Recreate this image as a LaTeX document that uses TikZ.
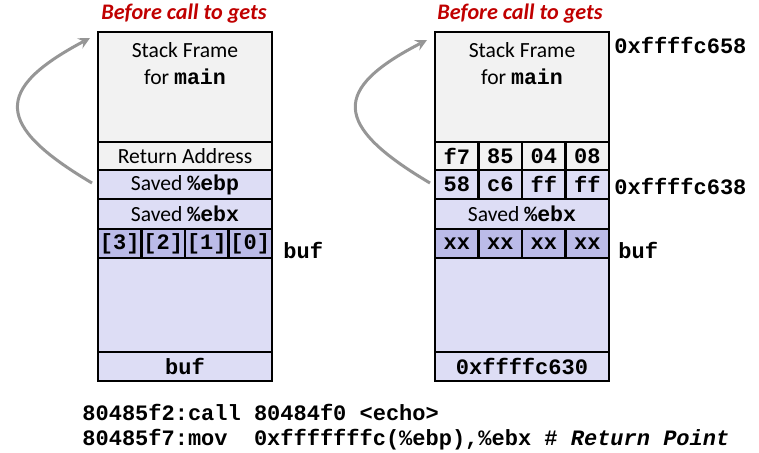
\documentclass[tikz,border=0pt]{standalone}
\usepackage{fontspec}
\setmainfont{Carlito}
\setmonofont{Liberation Mono}

\definecolor{framegray}{RGB}{242,242,242}
\definecolor{savedlav}{RGB}{221,221,245}
\definecolor{buflav}{RGB}{187,187,232}
\definecolor{titlered}{RGB}{192,0,0}
\definecolor{arrowgray}{RGB}{150,150,150}

\newcommand{\reg}[1]{\texttt{\textbf{#1}}}

\begin{document}
\begin{tikzpicture}[x=0.5pt,y=-0.5pt,
  cell/.style={draw,line width=1.2pt,minimum width=87pt,inner sep=0pt,font=\fontsize{10.8}{13.5}\selectfont},
  gray cell/.style={cell,fill=framegray},
  lav cell/.style={cell,fill=savedlav},
  byte cell/.style={cell,minimum width=21.75pt,font=\fontsize{11}{13}\selectfont\ttfamily\bfseries},
  title/.style={font=\fontsize{11.1}{13}\selectfont\bfseries\itshape,text=titlered},
  addr/.style={anchor=west,inner sep=0pt,font=\fontsize{11}{13}\selectfont\ttfamily\bfseries},
  code/.style={anchor=west,inner sep=0pt,font=\fontsize{11}{13}\selectfont\ttfamily\bfseries},
  back arrow/.style={->,>=stealth,line width=1.5pt,arrowgray}]
  \useasboundingbox (0,0) rectangle (759,452);

  % left stack
  \node[title] (titleL) at (184,14) {Before call to gets};
  \node[gray cell,minimum height=55pt] (frameL) at (185,87) {};
  \node[align=center,font=\fontsize{10.8}{13.5}\selectfont] (frameTxtL) at (185,63.5) {Stack Frame\\for \reg{main}};
  \node[gray cell,minimum height=14pt] (retL) at (185,156) {Return Address};
  \node[lav cell,minimum height=14.5pt] (ebpL) at (185,184.5) {Saved \reg{\%ebp}};
  \node[lav cell,minimum height=15pt] (ebxL) at (185,214) {Saved \reg{\%ebx}};
  \node[byte cell,fill=buflav,minimum height=14.5pt] (b3L) at (119.75,243.5) {[3]};
  \node[byte cell,fill=buflav,minimum height=14.5pt] (b2L) at (163.25,243.5) {[2]};
  \node[byte cell,fill=buflav,minimum height=14.5pt] (b1L) at (206.75,243.5) {[1]};
  \node[byte cell,fill=buflav,minimum height=14.5pt] (b0L) at (250.25,243.5) {[0]};
  \node[lav cell,minimum height=47pt] (restL) at (185,305) {};
  \node[lav cell,minimum height=14.5pt,font=\fontsize{11}{13}\selectfont\ttfamily\bfseries] (argL) at (185,366.5) {buf};
  \node[addr] (bufL) at (283,250) {buf};

  % right stack
  \node[title] (titleR) at (520,14) {Before call to gets};
  \node[gray cell,minimum height=55pt] (frameR) at (522,87) {};
  \node[align=center,font=\fontsize{10.8}{13.5}\selectfont] (frameTxtR) at (522,63.5) {Stack Frame\\for \reg{main}};
  \node[byte cell,fill=framegray,minimum height=14pt] (r0) at (456.75,156) {f7};
  \node[byte cell,fill=framegray,minimum height=14pt] (r1) at (500.25,156) {85};
  \node[byte cell,fill=framegray,minimum height=14pt] (r2) at (543.75,156) {04};
  \node[byte cell,fill=framegray,minimum height=14pt] (r3) at (587.25,156) {08};
  \node[byte cell,fill=savedlav,minimum height=14.5pt] (e0) at (456.75,184.5) {58};
  \node[byte cell,fill=savedlav,minimum height=14.5pt] (e1) at (500.25,184.5) {c6};
  \node[byte cell,fill=savedlav,minimum height=14.5pt] (e2) at (543.75,184.5) {ff};
  \node[byte cell,fill=savedlav,minimum height=14.5pt] (e3) at (587.25,184.5) {ff};
  \node[lav cell,minimum height=15pt] (ebxR) at (522,214) {Saved \reg{\%ebx}};
  \node[byte cell,fill=buflav,minimum height=14.5pt] (x0) at (456.75,243.5) {xx};
  \node[byte cell,fill=buflav,minimum height=14.5pt] (x1) at (500.25,243.5) {xx};
  \node[byte cell,fill=buflav,minimum height=14.5pt] (x2) at (543.75,243.5) {xx};
  \node[byte cell,fill=buflav,minimum height=14.5pt] (x3) at (587.25,243.5) {xx};
  \node[lav cell,minimum height=47pt] (restR) at (522,305) {};
  \node[lav cell,minimum height=14.5pt,font=\fontsize{11}{13}\selectfont\ttfamily\bfseries] (argR) at (522,366.5) {0xffffc630};
  \node[addr] (topAddr) at (614,45) {0xffffc658};
  \node[addr] (ebpAddr) at (614,186) {0xffffc638};
  \node[addr] (bufR) at (618,250) {buf};

  % code
  \node[code] (line1) at (82,412) {80485f2:call 80484f0 <echo>};
  \node[code] (line2) at (82,440) {80485f7:mov~~0xfffffffc(\%ebp),\%ebx \# \textit{Return Point}};

  % back links
  \coordinate (fromL) at (92,183);
  \coordinate (toL) at (90,38);
  \coordinate (fromR) at (430,183);
  \coordinate (toR) at (427,40);
  \draw[back arrow] (fromL) .. controls (-6,125) and (-6,89) .. (toL);
  \draw[back arrow] (fromR) .. controls (332,125) and (332,89) .. (toR);
\end{tikzpicture}
\end{document}
